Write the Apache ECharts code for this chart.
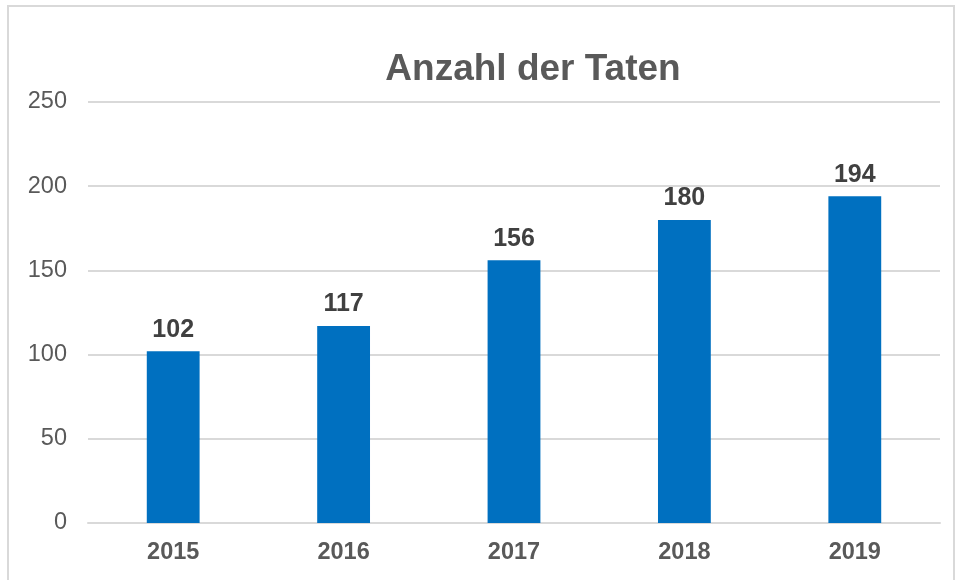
<!DOCTYPE html>
<html><head><meta charset="utf-8">
<script src="https://cdn.jsdelivr.net/npm/echarts@6/dist/echarts.min.js"></script>
<style>html,body{margin:0;padding:0;background:#fff}#c{width:958px;height:580px}</style>
</head><body><div id="c"></div>
<script>
const categories = ['2015','2016','2017','2018','2019'];
const values = [102,117,156,180,194];
const yTicks = [0,50,100,150,200,250];

const chart = echarts.init(document.getElementById('c'));
chart.setOption({
  animation:false,
  backgroundColor:'#fff',
  graphic:[{type:'rect',shape:{x:8,y:6,width:946,height:600},style:{fill:'none',stroke:'#d9d9d9',lineWidth:2},silent:true}],
  title:{text:'Anzahl der Taten',left:528,textAlign:'center',top:46,
    textStyle:{fontFamily:'Liberation Sans, Arial',fontSize:37,fontWeight:'bold',color:'#595959'}},
  grid:{left:88,right:18,top:102,bottom:57,containLabel:false},
  xAxis:{type:'category',data:categories,
    axisLine:{lineStyle:{color:'#d9d9d9',width:2}},axisTick:{show:false},
    axisLabel:{fontFamily:'Liberation Sans, Arial',fontSize:23.5,fontWeight:'bold',color:'#595959',margin:18}},
  yAxis:{type:'value',min:yTicks[0],max:yTicks[yTicks.length-1],interval:50,
    axisLine:{show:false},axisTick:{show:false},
    splitLine:{lineStyle:{color:'#d9d9d9',width:2}},
    axisLabel:{fontFamily:'Liberation Sans, Arial',fontSize:23.5,color:'#595959',margin:21}},
  series:[{type:'bar',data:values,barWidth:'31%',itemStyle:{color:'#0070C0'},
    label:{show:true,position:'top',distance:9,fontFamily:'Liberation Sans, Arial',fontSize:25,fontWeight:'bold',color:'#404040'}}]
});
</script></body></html>
